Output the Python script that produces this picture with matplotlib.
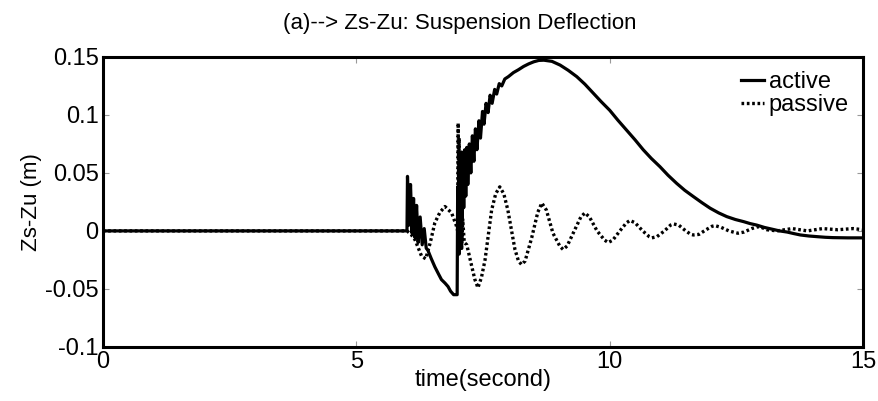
import matplotlib.pyplot as plt

plt.rcParams['font.family'] = ['Liberation Sans', 'DejaVu Sans']

# active suspension: time (s) and deflection (m)
t_active = [0, 6.0, 6.01, 6.04, 6.07, 6.10, 6.13, 6.16, 6.19, 6.22, 6.26, 6.30,
            6.34, 6.38, 6.41, 6.48, 6.55, 6.62, 6.68, 6.75, 6.81, 6.86, 6.92, 6.99,
            7.00, 7.01, 7.02, 7.03, 7.04, 7.05, 7.06, 7.07, 7.08, 7.09, 7.10, 7.12,
            7.14, 7.16, 7.18, 7.20, 7.23, 7.26, 7.29, 7.32, 7.35, 7.38, 7.42, 7.45,
            7.49, 7.52, 7.56, 7.60, 7.64, 7.68, 7.73, 7.77, 7.82, 7.87, 7.93, 8.0,
            8.1, 8.2, 8.3, 8.4, 8.5, 8.6, 8.7, 8.86, 9.02, 9.18, 9.35, 9.51, 9.67,
            9.83, 10.0, 10.16, 10.33, 10.5, 10.66, 10.82, 10.99, 11.15, 11.32, 11.48,
            11.65, 11.82, 11.98, 12.15, 12.31, 12.48, 12.64, 12.77, 12.9, 13.05,
            13.2, 13.35, 13.5, 13.63, 13.76, 13.93, 14.1, 14.25, 14.4, 14.55, 14.7,
            15.0]
z_active = [0, 0, 0.047, 0.005, 0.04, -0.002, 0.028, -0.006, 0.022, -0.01, 0.012,
            -0.012, 0.002, -0.015, -0.0165, -0.024, -0.031, -0.037, -0.042, -0.045,
            -0.048, -0.052, -0.055, -0.055,
            0.038, -0.01, 0.055, -0.02, 0.06, 0.0, 0.065, -0.015, 0.068, 0.01, 0.065,
            0.02, 0.07, 0.03, 0.072, 0.04, 0.075, 0.05, 0.082, 0.06, 0.088, 0.07,
            0.095, 0.08, 0.103, 0.092, 0.11, 0.102, 0.117, 0.11, 0.122, 0.118, 0.127,
            0.125, 0.131, 0.133,
            0.1365, 0.139, 0.1418, 0.144, 0.1458, 0.147, 0.1472, 0.1462, 0.143,
            0.1385, 0.133, 0.1265, 0.119, 0.1115, 0.104, 0.0955, 0.087, 0.0785,
            0.070, 0.0625, 0.0554, 0.048, 0.041, 0.035, 0.0296, 0.0243, 0.0196,
            0.0155, 0.0123, 0.0098, 0.008, 0.0063, 0.005, 0.003, 0.0015, 0.0,
            -0.001, -0.0023, -0.0035, -0.0044, -0.005, -0.0055, -0.0058, -0.0059,
            -0.006, -0.006]

# passive suspension
t_passive = [0, 6.0, 6.08, 6.16, 6.29, 6.37, 6.46, 6.55, 6.65, 6.75, 6.88, 6.97,
             7.0, 7.01, 7.02, 7.03, 7.04, 7.05, 7.06, 7.07, 7.08, 7.10, 7.13, 7.18,
             7.28, 7.34, 7.40, 7.47, 7.54, 7.67, 7.75, 7.83, 7.91, 7.99, 8.13, 8.20,
             8.26, 8.33, 8.46, 8.58, 8.66, 8.75, 8.88, 9.02, 9.08, 9.16, 9.30, 9.43,
             9.51, 9.60, 9.75, 9.90, 9.97, 10.06, 10.20, 10.33, 10.40, 10.50, 10.65,
             10.78, 10.83, 10.93, 11.08, 11.20, 11.26, 11.36, 11.50, 11.60, 11.65,
             11.76, 11.90, 12.02, 12.08, 12.20, 12.35, 12.48, 12.53, 12.65, 12.80,
             12.92, 12.97, 13.1, 13.3, 13.6, 13.9, 14.2, 14.5, 14.8, 15.0]
z_passive = [0, 0, -0.003, -0.0078, -0.022, -0.024, -0.01, 0.007, 0.016, 0.021,
             0.0155, 0.005,
             0.0, 0.093, 0.02, 0.08, 0.0, 0.06, -0.01, 0.04, -0.015, 0.01, -0.01,
             -0.012, -0.031, -0.042, -0.049, -0.04, -0.025, 0.018, 0.032, 0.038,
             0.032, 0.018, -0.016, -0.026, -0.029, -0.026, -0.006, 0.016, 0.024,
             0.018, -0.002, -0.0135, -0.016, -0.013, 0.0, 0.012, 0.0155, 0.012,
             0.0, -0.008, -0.010, -0.008, 0.0, 0.007, 0.009, 0.007, 0.0, -0.005,
             -0.006, -0.005, 0.0, 0.005, 0.006, 0.005, 0.0, -0.003, -0.0035, -0.003,
             0.001, 0.004, 0.0045, 0.003, 0.0, -0.0015, -0.002, -0.001, 0.002,
             0.0035, 0.0035, 0.001, 0.0, 0.002, 0.0, 0.002, 0.001, 0.002, 0.001]

fig = plt.figure(figsize=(8.79, 4.01), dpi=100)
ax = fig.add_axes([0.117, 0.135, 0.865, 0.723])

ax.plot(t_passive, z_passive, color='black', lw=2.4, ls=(0, (0.8, 0.8)),
        dash_capstyle='butt', label='passive')
ax.plot(t_active, z_active, color='black', lw=2.3, label='active')

ax.set_xlim(0, 15)
ax.set_ylim(-0.1, 0.15)
ax.set_xticks([0, 5, 10, 15])
ax.set_xticklabels(['0', '5', '10', '15'])
ax.set_yticks([-0.1, -0.05, 0, 0.05, 0.1, 0.15])
ax.set_yticklabels(['-0.1', '-0.05', '0', '0.05', '0.1', '0.15'])
ax.tick_params(direction='in', length=4, width=0.8, color='#999999',
               top=True, right=True, labelsize=17, pad=3)
for s in ax.spines.values():
    s.set_linewidth(2.2)

ax.set_title('(a)--> Zs-Zu: Suspension Deflection', fontsize=16, pad=20, x=0.47)
ax.set_xlabel('time(second)', fontsize=17, labelpad=-3)
ax.set_ylabel('Zs-Zu (m)', fontsize=16, labelpad=2)

# legend order: active first
h, l = ax.get_legend_handles_labels()
ax.legend(h[::-1], l[::-1], loc='upper right', frameon=False, fontsize=17,
          handlelength=1.0, handletextpad=0.2, borderaxespad=0.2,
          labelspacing=0.05)

fig.savefig('out.png', dpi=100)
